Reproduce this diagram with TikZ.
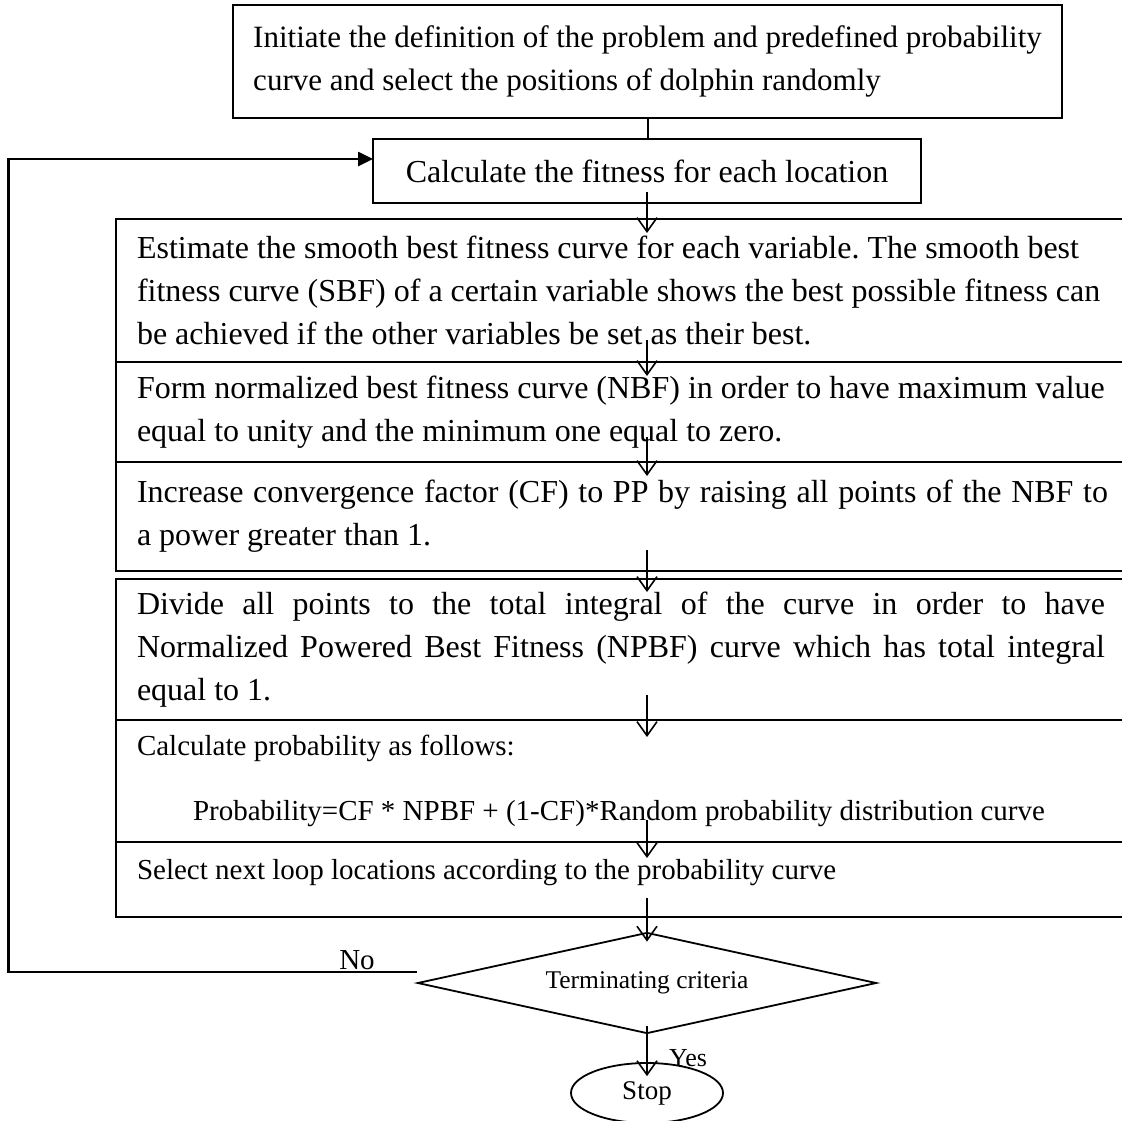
\documentclass[tikz,border=0pt]{standalone}
\usepackage{fontspec}
\setmainfont{Liberation Serif}
\usetikzlibrary{arrows.meta,shapes.geometric,calc}
\frenchspacing
\begin{document}
\begin{tikzpicture}[x=1pt,y=-1pt,
  box/.style={draw, line width=2pt, outer sep=0pt, inner ysep=4pt},
  mainfont/.style={font=\fontsize{32}{43}\selectfont},
  smallfont/.style={font=\fontsize{29}{40}\selectfont},
  widebox/.style={box, anchor=north west, text width=990pt, inner xsep=21pt, align=flush left},
  varrow/.style={line width=1.6pt, -{Straight Barb[length=14pt,width=20pt,line width=1.6pt]}},
  fbarrow/.style={line width=2.6pt, -{Triangle[length=15pt,width=14pt]}},
]
\fill[white] (0,0) rectangle (1122,1120);
\useasboundingbox (0,0) rectangle (1122,1120);
\clip (0,0) rectangle (1122,1120);

\node[box, font=\fontsize{31}{43}\selectfont, align=flush left, minimum width=829pt, minimum height=113pt] (b1) at (647.5,61.5)
  {Initiate the definition of the problem and predefined probability\\curve and select the positions of dolphin randomly};

\node[box, font=\fontsize{32}{40}\selectfont, minimum width=548pt, minimum height=64pt] (b2) at (647,171)
  {Calculate the fitness for each location};

\node[widebox, mainfont, minimum height=143pt] (b3) at (116,219)
  {Estimate the smooth best fitness curve for each variable. The smooth best\\fitness curve (SBF) of a certain variable shows the best possible fitness can\\be achieved if the other variables be set as their best.};

\node[widebox, mainfont, minimum height=100pt] (b4) at (116,362)
  {Form normalized best fitness curve (NBF) in order to have maximum value\\equal to unity and the minimum one equal to zero.};

\node[widebox, mainfont, minimum height=109pt] (b5) at (116,462)
  {\makebox[971pt][s]{Increase convergence factor (CF) to PP by raising all points of the NBF to}\\a power greater than 1.};

\node[widebox, mainfont, minimum height=141pt] (b6) at (116,579)
  {\makebox[968pt][s]{Divide all points to the total integral of the curve in order to have}\\\makebox[968pt][s]{Normalized Powered Best Fitness (NPBF) curve which has total integral}\\equal to 1.};

\node[widebox, smallfont, minimum height=122pt] (b7) at (116,720)
  {Calculate probability as follows:\\[25pt]\hspace*{56pt}Probability=CF * NPBF + (1-CF)*Random probability distribution curve};

\node[widebox, smallfont, minimum height=75pt, text depth=20pt] (b8) at (116,842)
  {Select next loop locations according to the probability curve};

\node[draw, diamond, aspect=4.5, line width=1.8pt, minimum width=459pt, minimum height=101pt, inner sep=0pt,
  font=\fontsize{25.5}{30}\selectfont] (dia) at (647,983) {Terminating criteria};

\node[draw, ellipse, line width=1.8pt, minimum width=152pt, minimum height=60pt, inner sep=0pt,
  font=\fontsize{27}{30}\selectfont] (stop) at (647,1093) {Stop};

\node[font=\fontsize{29}{30}\selectfont] (no) at (357,960) {No};
\node[font=\fontsize{26}{30}\selectfont] (yes) at (688,1058) {Yes};

\draw[line width=2pt] (b1.south) -- (b1.south |- b2.north);
\draw[varrow] ($(b2.south)+(0,-11)$) -- ($(b2.south |- b3.north)+(0,14)$);
\draw[varrow] ($(b2.south |- b3.south)+(0,-22)$) -- ($(b2.south |- b4.north)+(0,14)$);
\draw[varrow] ($(b2.south |- b4.south)+(0,-25)$) -- ($(b2.south |- b5.north)+(0,14)$);
\draw[varrow] ($(b2.south |- b5.south)+(0,-21)$) -- ($(b2.south |- b6.north)+(0,13)$);
\draw[varrow] ($(b2.south |- b6.south)+(0,-25)$) -- ($(b2.south |- b7.north)+(0,17)$);
\draw[varrow] ($(b2.south |- b7.south)+(0,-22)$) -- ($(b2.south |- b8.north)+(0,16)$);
\draw[varrow] ($(b2.south |- b8.south)+(0,-19)$) -- ($(dia.north)+(0,10)$);
\draw[varrow] ($(dia.south)+(0,-8)$) -- ($(stop.north)+(0,14)$);
\draw[fbarrow] ($(dia.west)+(0,-11)$) -- ++(-408,0) |- ($(b2.west)+(0,-12)$);
\end{tikzpicture}
\end{document}
